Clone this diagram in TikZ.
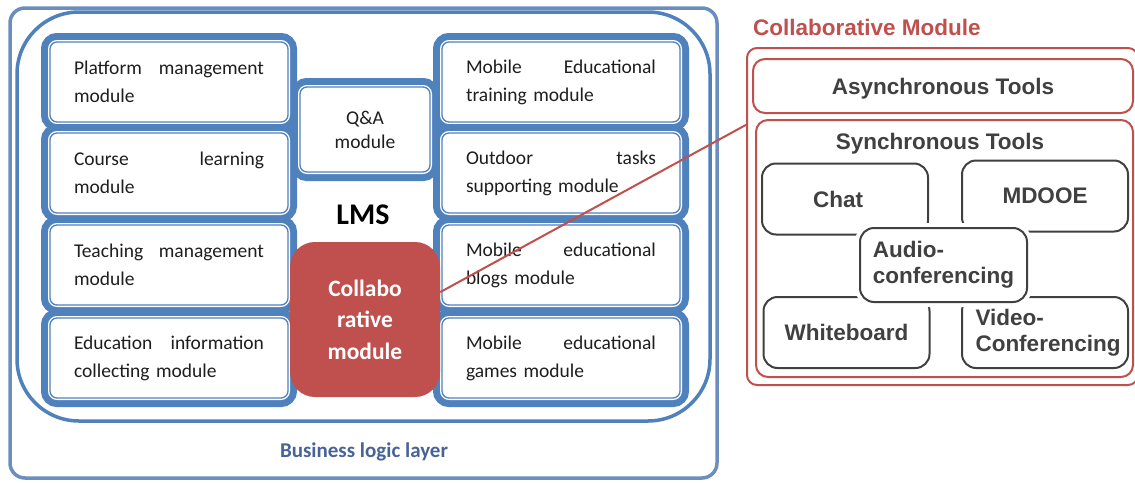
\documentclass[tikz,border=0pt]{standalone}
\usepackage{fontspec}
\setmainfont{Carlito}
\newfontfamily\rfont{Liberation Sans}
\definecolor{lmsblue}{RGB}{79,129,189}
\definecolor{bizblue}{RGB}{108,142,191}
\definecolor{biztext}{RGB}{72,100,150}
\definecolor{modtext}{RGB}{30,30,30}
\definecolor{collred}{RGB}{192,80,77}
\definecolor{toolgray}{RGB}{64,64,64}
\newcommand\jfill{\hskip 0pt plus 1filll\relax}
\tikzset{
  modbox/.style={draw=lmsblue, line width=1.3pt, fill=white, rounded corners=7pt,
    minimum width=238pt, minimum height=80pt, inner sep=0pt, text width=190pt, align=left,
    font=\fontsize{19.5}{28}\selectfont, text=modtext,
    preaction={draw=lmsblue, line width=18pt},
    preaction={draw=white, line width=4pt}},
  qabox/.style={modbox, minimum width=130pt, minimum height=85pt, text width=120pt, align=center,
    font=\fontsize{19.5}{24}\selectfont},
  frame/.style={rectangle, inner sep=0pt},
  redbox/.style={draw=collred, line width=2pt, rounded corners=12pt, frame},
  tool/.style={draw=toolgray, line width=2pt, rounded corners=14pt, fill=white, inner sep=0pt,
    font=\rfont\bfseries\fontsize{22.5}{26}\selectfont, text=toolgray, align=left,
    minimum width=166pt, minimum height=71pt},
  rtitle/.style={font=\rfont\bfseries\fontsize{22.5}{26}\selectfont, text=toolgray, inner sep=0pt},
}
\begin{document}
\begin{tikzpicture}[x=1pt,y=-1pt]
\useasboundingbox (0,0) rectangle (1135,482);
\fill[white] (0,0) rectangle (1135,482);
% frames
\node[frame, draw=bizblue, line width=3.5pt, rounded corners=15pt, minimum width=707pt, minimum height=470pt] (biz) at (363.5,243) {};
\node[frame, draw=lmsblue, line width=3.5pt, rounded corners=62pt, minimum width=693pt, minimum height=409pt] (lms) at (363.5,216.5) {};
\node[font=\bfseries\fontsize{21}{24}\selectfont, text=biztext] (bizlabel) at (364,452) {Business logic layer};
% left column
\node[modbox] (pm) at (169,82) {Platform\jfill management\\module};
\node[modbox] (cl) at (169,173) {Course\jfill learning\\module};
\node[modbox] (tm) at (169,265) {Teaching\jfill management\\module};
\node[modbox] (ei) at (169,358) {Education\jfill information\\collecting module};
% middle
\node[qabox] (qa) at (365,129.5) {Q\&A\\module};
% right column
\node[modbox] (met) at (561,82) {Mobile\jfill Educational\\training module};
\node[modbox] (ot) at (561,173) {Outdoor\jfill tasks\\supporting module};
\node[modbox] (meb) at (561,265) {Mobile\jfill educational\\blogs module};
\node[modbox] (meg) at (561,358) {Mobile\jfill educational\\games module};
\node[font=\bfseries\fontsize{30}{34}\selectfont, text=black] (lmslabel) at (363,215) {LMS};
\node[fill=collred, rounded corners=25pt, minimum width=150pt, minimum height=155pt, inner sep=0pt,
  text=white, align=center, font=\bfseries\fontsize{23.5}{31.5}\selectfont] (collab) at (365,319.5) {Collabo\\rative\\module};
% right panel
\node[anchor=west, inner sep=0pt, font=\rfont\bfseries\fontsize{22.5}{26}\selectfont, text=collred] (ptitle) at (753,27) {Collaborative Module};
\node[redbox, rounded corners=10pt, minimum width=391pt, minimum height=337pt] (panel) at (942.5,216.5) {};
\node[redbox, minimum width=380pt, minimum height=54pt] (async) at (943,86) {};
\node[rtitle] (asynct) at (943,89) {Asynchronous Tools};
\node[redbox, minimum width=377pt, minimum height=257pt] (sync) at (944.5,248.5) {};
\node[rtitle] (synct) at (940,144) {Synchronous Tools};
\node[tool] (chat) at (845,199) {Chat\hspace*{14pt}};
\node[tool] (mdooe) at (1045,196) {MDOOE};
\node[tool] (wb) at (846.5,332.5) {Whiteboard};
\node[tool] (video) at (1045,332.5) {\hspace*{6pt}Video-\\\hspace*{6pt}Conferencing};
\node[tool, minimum width=167pt, minimum height=74pt, preaction={draw=white, line width=10pt}] (audio) at (943.5,265) {Audio-\\conferencing};
% connector
\draw[collred, line width=2pt] (collab.20) -- (panel.155.6);
\end{tikzpicture}
\end{document}
